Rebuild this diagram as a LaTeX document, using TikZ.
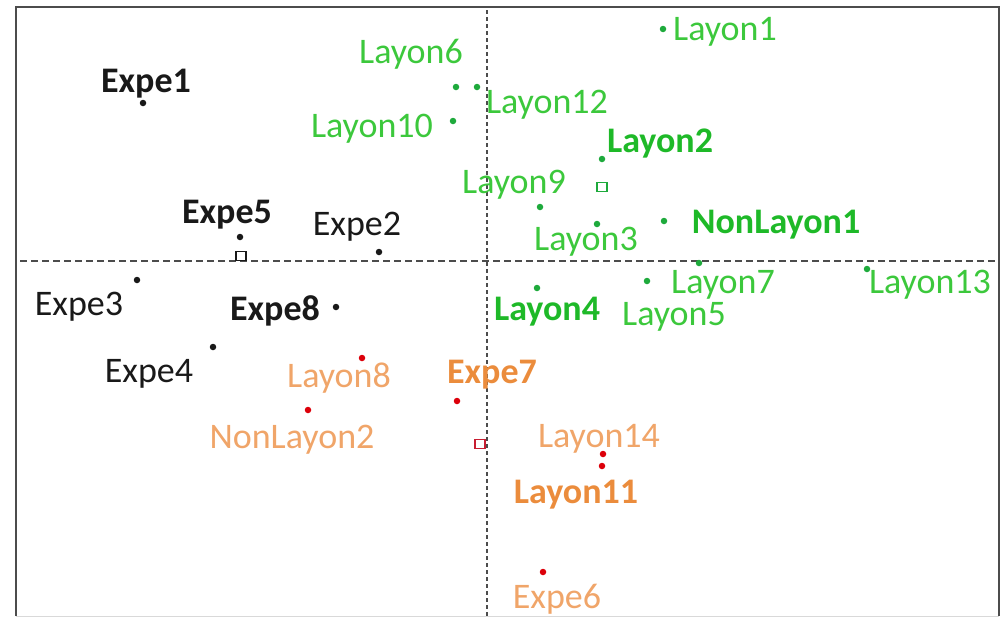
\documentclass[tikz,border=0pt]{standalone}
\usepackage{fontspec}
\setmainfont{Carlito}
\definecolor{gtxt}{RGB}{60,200,60}
\definecolor{gbold}{RGB}{30,185,40}
\definecolor{gdot}{RGB}{30,170,60}
\definecolor{otxt}{RGB}{240,165,105}
\definecolor{obold}{RGB}{235,140,60}
\definecolor{rdot}{RGB}{220,0,10}
\definecolor{ktxt}{RGB}{25,25,25}
\definecolor{sqred}{RGB}{200,30,50}
\begin{document}
\begin{tikzpicture}[x=1pt,y=-1pt,
  lbl/.style={anchor=base,inner sep=0pt,font=\fontsize{36}{40}\selectfont},
  blbl/.style={lbl,font=\fontsize{36}{40}\selectfont\bfseries},
  pt/.style={circle,inner sep=0pt,minimum size=6.5pt},
  sq/.style={rectangle,inner sep=0pt,minimum width=10pt,minimum height=8.5pt,line width=1.3pt,fill=white},
  axis/.style={line width=2pt,color=black!70}]
\useasboundingbox (0,0) rectangle (1003,619);
% frame
\draw[line width=1.5pt,black!70] (16,616) -- (16,7) -- (999,7) -- (999,616);
\draw[line width=1pt,black!15] (16,616) -- (999,616);
% axes
\coordinate (hL) at (20,261);
\coordinate (hR) at (998,261);
\coordinate (vT) at (487,10);
\coordinate (vB) at (487,616);
\draw[axis,dash pattern=on 7pt off 4pt] (hL) -- (hR);
\draw[axis,dash pattern=on 4pt off 3pt] (vT) -- (vB);
% black points
\node[pt,fill=ktxt] (pE1) at (143,103) {};
\node[pt,fill=ktxt] (pE5) at (240,237) {};
\node[sq,draw=ktxt] (sqK) at (241,256) {};
\node[pt,fill=ktxt] (pE2) at (379,252) {};
\node[pt,fill=ktxt] (pE3) at (137,280) {};
\node[pt,fill=ktxt] (pE8) at (336,307) {};
\node[pt,fill=ktxt] (pE4) at (213,347) {};
\node[blbl,ktxt] (tE1) at (146,92) {Expe1};
\node[blbl,ktxt] (tE5) at (227,223) {Expe5};
\node[lbl,ktxt] (tE2) at (357,235) {Expe2};
\node[lbl,ktxt] (tE3) at (79,315) {Expe3};
\node[blbl,ktxt] (tE8) at (275,320) {Expe8};
\node[lbl,ktxt] (tE4) at (149,382) {Expe4};
% red points
\node[pt,fill=rdot] (pL8) at (362,358) {};
\node[pt,fill=rdot] (pE7) at (457,401) {};
\node[pt,fill=rdot] (pNL2) at (308,410) {};
\node[sq,draw=sqred] (sqR) at (480,444) {};
\node[pt,fill=rdot] (pL14) at (603,454) {};
\node[pt,fill=rdot] (pL11) at (602,466) {};
\node[pt,fill=rdot] (pE6) at (543,572) {};
\node[lbl,otxt] (tL8) at (339,387) {Layon8};
\node[blbl,obold] (tE7) at (492,383) {Expe7};
\node[lbl,otxt] (tNL2) at (292,448) {NonLayon2};
\node[lbl,otxt] (tL14) at (599,447) {Layon14};
\node[blbl,obold] (tL11) at (576,503) {Layon11};
\node[lbl,otxt] (tE6) at (557,608) {Expe6};
% green points
\node[pt,fill=gdot] (pL1) at (663,29) {};
\node[pt,fill=gdot] (pL6) at (456,87) {};
\node[pt,fill=gdot] (pL12) at (477,87) {};
\node[pt,fill=gdot] (pL10) at (453,121) {};
\node[pt,fill=gdot] (pL2) at (602,159) {};
\node[sq,draw=gdot] (sqG) at (602,187) {};
\node[pt,fill=gdot] (pL9) at (540,207) {};
\node[pt,fill=gdot] (pL3) at (597,224) {};
\node[pt,fill=gdot] (pNL1) at (664,221) {};
\node[pt,fill=gdot] (pL7) at (699,263) {};
\node[pt,fill=gdot] (pL13) at (867,269) {};
\node[pt,fill=gdot] (pL4) at (537,288) {};
\node[pt,fill=gdot] (pL5) at (647,281) {};
\node[lbl,gtxt] (tL1) at (725,40) {Layon1};
\node[lbl,gtxt] (tL6) at (411,63) {Layon6};
\node[lbl,gtxt] (tL12) at (547,113) {Layon12};
\node[lbl,gtxt] (tL10) at (372,137) {Layon10};
\node[blbl,gbold] (tL2) at (660,152) {Layon2};
\node[lbl,gtxt] (tL9) at (514,193) {Layon9};
\node[lbl,gtxt] (tL3) at (586,250) {Layon3};
\node[blbl,gbold] (tNL1) at (776,233) {NonLayon1};
\node[lbl,gtxt] (tL7) at (723,293) {Layon7};
\node[lbl,gtxt] (tL13) at (930,293) {Layon13};
\node[blbl,gbold] (tL4) at (547,320) {Layon4};
\node[lbl,gtxt] (tL5) at (674,325) {Layon5};
\end{tikzpicture}
\end{document}
